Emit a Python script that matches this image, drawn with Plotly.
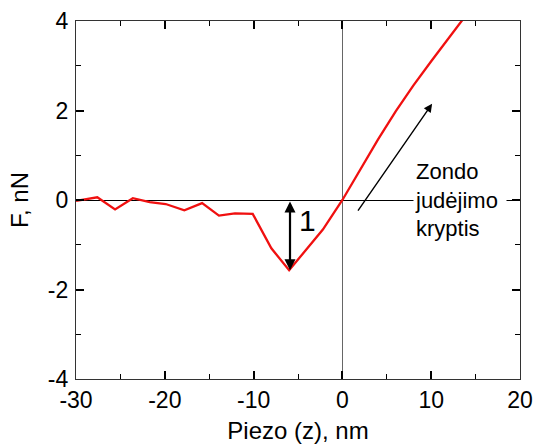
import plotly.graph_objects as go

# Data
piezo_nm = [-30, -27.6, -25.6, -23.6, -21.7, -19.9, -17.8, -15.8, -13.9, -12.1, -10.1,
            -8.0, -6.0, -4.2, -2.2, 0.0, 2.0, 4.0, 6.0, 8.0, 10.0, 12.0, 14.0]
force_nN = [-0.02, 0.06, -0.21, 0.04, -0.05, -0.09, -0.23, -0.07, -0.35, -0.30, -0.31,
            -1.08, -1.57, -1.14, -0.66, 0.0, 0.68, 1.35, 1.98, 2.56, 3.10, 3.62, 4.15]

x_ticks = [-30, -20, -10, 0, 10, 20]
x_tick_text = ["-30", "-20", "-10", "0", "10", "20"]
y_ticks = [-4, -2, 0, 2, 4]
y_tick_text = ["-4", "-2", "0", "2", "4"]

adhesion_x = -5.9
adhesion_y0 = 0.0
adhesion_y1 = -1.57
direction_start = (1.64, -0.27)
direction_end = (10.1, 2.15)
direction_label = "Zondo<br>judėjimo<br>kryptis"
adhesion_label = "1"

FONT = "Arial, Liberation Sans, sans-serif"

fig = go.Figure()

fig.add_trace(go.Scatter(
    x=piezo_nm, y=force_nN, mode="lines",
    line=dict(color="#f01010", width=2.3),
    showlegend=False,
))

# adhesion double-headed arrow
fig.add_annotation(
    x=adhesion_x, y=adhesion_y1, ax=adhesion_x, ay=adhesion_y0,
    xref="x", yref="y", axref="x", ayref="y",
    showarrow=True, arrowhead=2, startarrowhead=2, arrowside="end+start",
    arrowsize=1.0, arrowwidth=2.2, arrowcolor="black", text="",
)
fig.add_annotation(
    x=-3.9, y=-0.45, xref="x", yref="y", text=adhesion_label, showarrow=False,
    font=dict(family=FONT, size=30, color="black"),
)

# direction arrow
fig.add_annotation(
    x=direction_end[0], y=direction_end[1], ax=direction_start[0], ay=direction_start[1],
    xref="x", yref="y", axref="x", ayref="y",
    showarrow=True, arrowhead=2, arrowsize=1.2, arrowwidth=1.4, arrowcolor="black", text="",
)
fig.add_annotation(
    x=7.9, y=0.0, xref="x", yref="y", xanchor="left", yanchor="middle",
    text=direction_label, showarrow=False, align="left",
    font=dict(family=FONT, size=22, color="black"),
    bgcolor="white", borderpad=1, width=90,
)

axis_common = dict(
    showline=True, linecolor="#333333", linewidth=1.4, mirror="allticks",
    ticks="inside", ticklen=8, tickwidth=1.5, tickcolor="black",
    showgrid=False, automargin=False, ticklabeloverflow="allow",
    tickfont=dict(family=FONT, size=23, color="black"),
    tickmode="array", layer="above traces",
)

fig.update_xaxes(
    range=[-30, 20], tickvals=x_ticks, ticktext=x_tick_text,
    minor=dict(ticks="inside", ticklen=5, tickwidth=1.3, tickcolor="black",
               tickmode="linear", dtick=5, tick0=0),
    zeroline=True, zerolinecolor="#666666", zerolinewidth=1.3,
    title=dict(text="Piezo (z), nm", font=dict(family=FONT, size=24, color="black"), standoff=10),
    **axis_common,
)
fig.update_yaxes(
    range=[-4, 4], tickvals=y_ticks, ticktext=y_tick_text,
    minor=dict(ticks="inside", ticklen=5, tickwidth=1.3, tickcolor="black",
               tickmode="linear", dtick=1, tick0=0),
    zeroline=True, zerolinecolor="black", zerolinewidth=1.3,
    title=dict(text="F, nN", font=dict(family=FONT, size=24, color="black"), standoff=12),
    ticklabelstandoff=2,
    **axis_common,
)

fig.update_layout(
    width=536, height=447,
    margin=dict(l=76, r=16, t=21, b=68),
    plot_bgcolor="white", paper_bgcolor="white",
)

fig.write_html(
    "out.html",
    config={"displayModeBar": False},
    post_script="document.body.style.margin='0';document.body.style.overflow='hidden';",
)
